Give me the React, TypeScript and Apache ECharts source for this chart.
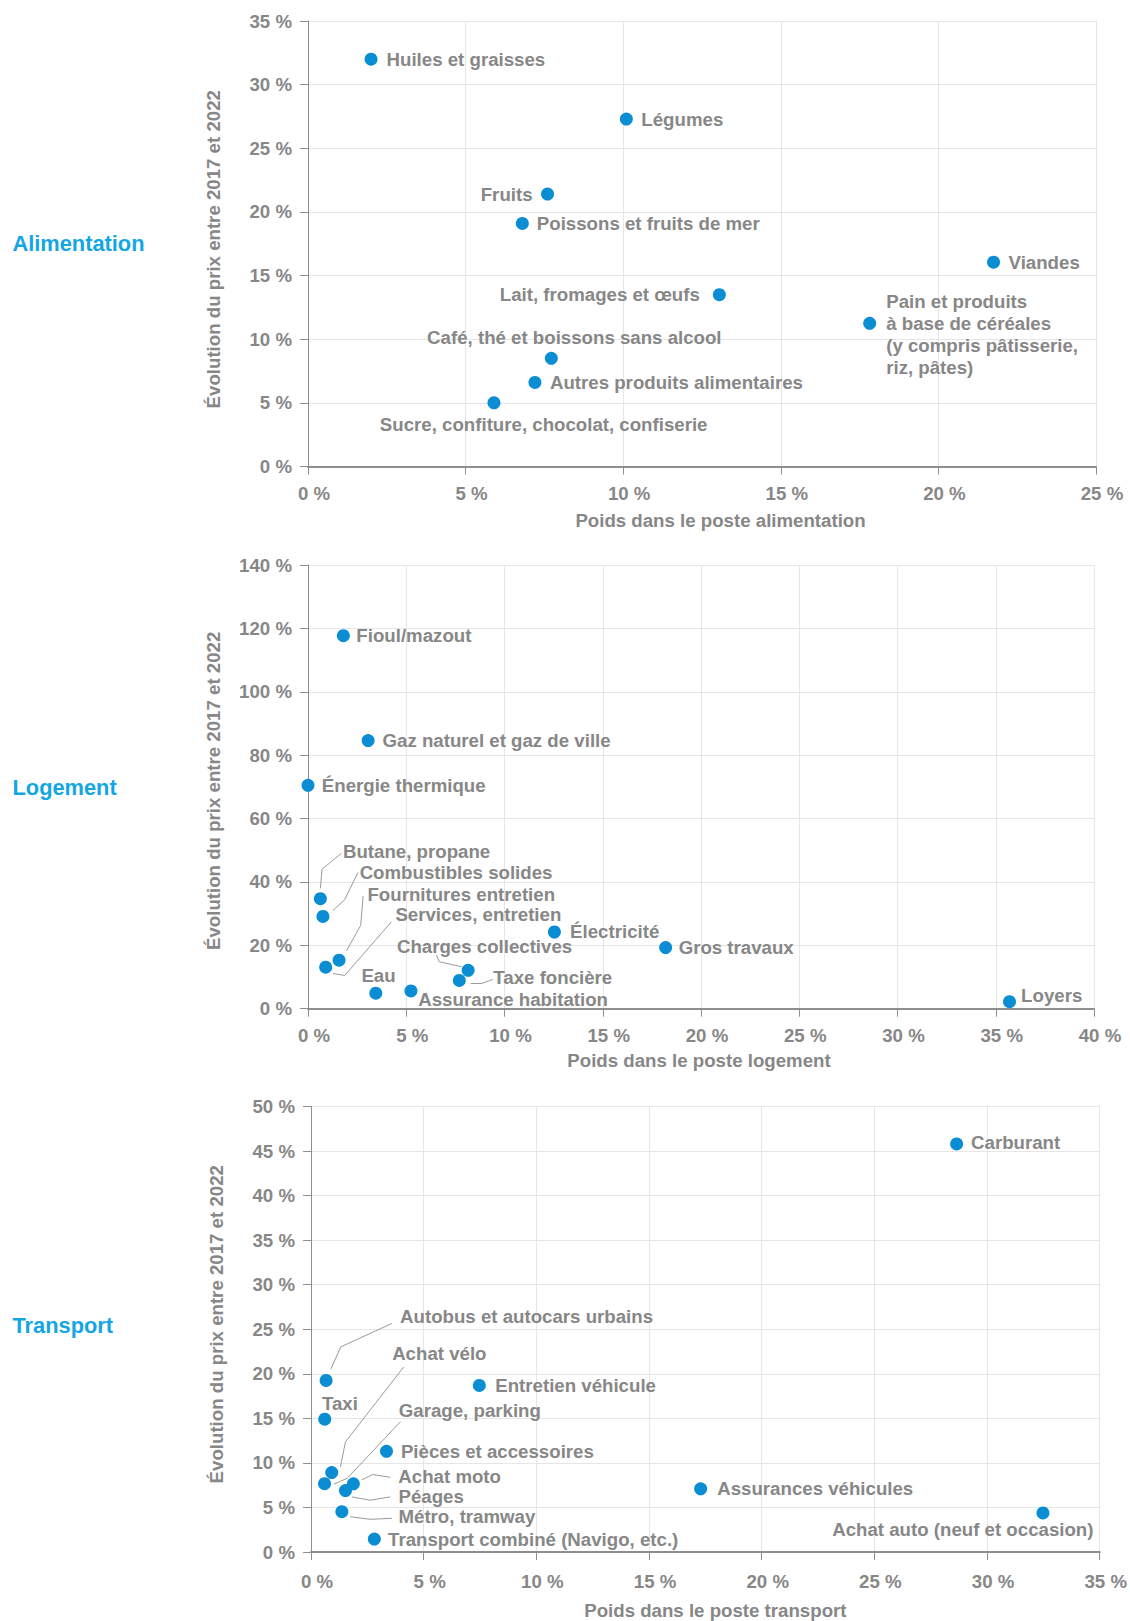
import React, { useEffect, useRef } from "react";
import * as echarts from "echarts";

// ---------- Data ----------
const alimNames = [
  "Huiles et graisses",
  "Légumes",
  "Fruits",
  "Poissons et fruits de mer",
  "Viandes",
  "Lait, fromages et œufs",
  "Pain et produits\nà base de céréales\n(y compris pâtisserie,\nriz, pâtes)",
  "Café, thé et boissons sans alcool",
  "Autres produits alimentaires",
  "Sucre, confiture, chocolat, confiserie",
];
const alimWeight = [2.0, 10.1, 7.6, 6.8, 21.75, 13.05, 17.82, 7.72, 7.2, 5.9];
const alimChange = [32.0, 27.3, 21.4, 19.1, 16.05, 13.5, 11.25, 8.5, 6.6, 5.0];

const logNames = [
  "Fioul/mazout",
  "Gaz naturel et gaz de ville",
  "Énergie thermique",
  "Butane, propane",
  "Combustibles solides",
  "Fournitures entretien",
  "Services, entretien",
  "Eau",
  "Assurance habitation",
  "Charges collectives",
  "Taxe foncière",
  "Électricité",
  "Gros travaux",
  "Loyers",
];
const logWeight = [1.8, 3.06, 0, 0.63, 0.76, 1.58, 0.9, 3.45, 5.24, 8.15, 7.7, 12.54, 18.2, 35.7];
const logChange = [117.7, 84.6, 70.5, 34.7, 29.1, 15.3, 13.1, 4.9, 5.6, 12.1, 8.9, 24.2, 19.3, 2.2];

const transNames = [
  "Carburant",
  "Achat auto (neuf et occasion)",
  "Assurances véhicules",
  "Entretien véhicule",
  "Pièces et accessoires",
  "Autobus et autocars urbains",
  "Taxi",
  "Achat vélo",
  "Garage, parking",
  "Achat moto",
  "Péages",
  "Métro, tramway",
  "Transport combiné (Navigo, etc.)",
];
const transWeight = [28.65, 32.48, 17.29, 7.47, 3.35, 0.67, 0.61, 0.92, 0.6, 1.88, 1.53, 1.37, 2.81];
const transChange = [45.8, 4.38, 7.09, 18.7, 11.3, 19.25, 14.9, 8.92, 7.67, 7.65, 6.9, 4.52, 1.45];

const sectionTitles = ["Alimentation", "Logement", "Transport"];
const xAxisNames = [
  "Poids dans le poste alimentation",
  "Poids dans le poste logement",
  "Poids dans le poste transport",
];
const yAxisName = "Évolution du prix entre 2017 et 2022";
const xMax = [25, 40, 35];
const yMax = [35, 140, 50];
const yStep = [5, 20, 5];

// ---------- Layout (label offsets from the dot centre, in px) ----------
type Off = [number, number, string];
const alimLabelOff: Off[] = [
  [15.5, 0, "left"],
  [15, 0, "left"],
  [-15, 0, "right"],
  [14.5, 0, "left"],
  [15, 0, "left"],
  [-19.5, 0, "right"],
  [16.5, 11.5, "left"],
  [23, -20.7, "center"],
  [15, 0, "left"],
  [49.7, 22, "center"],
];
const logLabelOff: Off[] = [
  [13, 0, "left"],
  [14.4, 0, "left"],
  [13.8, 0, "left"],
  [22.6, -47, "left"],
  [36.7, -44, "left"],
  [28.4, -66, "left"],
  [69.7, -52.7, "left"],
  [2.7, -17.7, "center"],
  [7.3, 9, "left"],
  [16.4, -23.6, "center"],
  [34, -2.6, "left"],
  [15.7, -1, "left"],
  [13, 0, "left"],
  [11.6, -6, "left"],
];
const transLabelOff: Off[] = [
  [14.4, -1.7, "left"],
  [50.5, 16.2, "right"],
  [16.6, 0, "left"],
  [15.9, 0, "left"],
  [14.4, 0, "left"],
  [74, -64.3, "left"],
  [15.1, -15.8, "center"],
  [60.4, -119, "left"],
  [74.3, -72.7, "left"],
  [45, -7.6, "left"],
  [53, 5.7, "left"],
  [56.6, 5, "left"],
  [13.7, 0, "left"],
];

// leader line polylines (offsets from dot centre, px), keyed by point index
const logLeaders: Record<number, number[][]> = {
  3: [[0, -10.4], [1.6, -29.4], [21, -45.4]],
  4: [[10, -6], [21.7, -16.7], [35, -44]],
  5: [[7.4, -9.3], [21.7, -35], [24, -64]],
  6: [[7.3, 6.3], [19, 8.3], [65.7, -45.3]],
  9: [[-31.6, -15.3], [-29, -8.6], [-6.6, -3.6]],
  10: [[11.4, 3], [22.4, 3], [33.4, -1]],
};
const transLeaders: Record<number, number[][]> = {
  5: [[4.7, -11.3], [14.7, -33.6], [65.7, -57]],
  7: [[8.7, -5.6], [13.7, -30.6], [72, -105.6]],
  8: [[9.3, 0.6], [22.7, -5.4], [76, -62]],
  9: [[8.4, -4], [19.4, -9.3], [36.7, -6.6]],
  10: [[6.4, 6.4], [24.7, 9.7], [44.7, 6.4]],
  11: [[8.3, 5], [28.3, 7.6], [50, 6.6]],
};

const grids = [
  { left: 308, top: 21, width: 788, height: 445.5 },
  { left: 308, top: 565, width: 786, height: 443.7 },
  { left: 311, top: 1106.5, width: 791, height: 445.5 },
];
const titleY = [243, 787, 1325];
const xNamePad = [[0, 0, 0, 37], [0, 4, 0, 0], [0, 0, 0, 20]];
const yNamePad = [[0, 11, 0, 0], [0, 8, 0, 0], [0, 0, 0, 10]];
const xNameGap = [44, 42.5, 49];
const xLabelMargin = [17, 17, 20];

const GRAY = "#878787";
const BLUE = "#0a8dd3";
const TITLE = "#12a6e6";
const FONT = '"Liberation Sans", Arial, Helvetica, sans-serif';
const FS = 18.67;

function buildOption() {
  const sets = [
    { names: alimNames, w: alimWeight, c: alimChange, off: alimLabelOff, lead: {} as Record<number, number[][]> },
    { names: logNames, w: logWeight, c: logChange, off: logLabelOff, lead: logLeaders },
    { names: transNames, w: transWeight, c: transChange, off: transLabelOff, lead: transLeaders },
  ];

  const xAxis = sets.map((_, i) => ({
    type: "value",
    gridIndex: i,
    min: 0,
    max: xMax[i],
    interval: 5,
    name: xAxisNames[i],
    nameLocation: "middle",
    nameGap: xNameGap[i],
    nameTextStyle: { color: GRAY, fontSize: FS, fontWeight: "bold", fontFamily: FONT, padding: xNamePad[i] },
    axisLine: { show: true, onZero: false, lineStyle: { color: "#8e8e8e", width: 2 } },
    axisTick: { show: true, length: 8, lineStyle: { color: "#8e8e8e", width: 1 } },
    axisLabel: {
      formatter: "{value} %",
      color: GRAY,
      fontSize: FS,
      fontWeight: "bold",
      fontFamily: FONT,
      margin: xLabelMargin[i],
      padding: [0, 0, 0, 12],
    },
    splitLine: { show: true, lineStyle: { color: "#e6e6e6", width: 1 } },
  }));

  const yAxis = sets.map((_, i) => ({
    type: "value",
    gridIndex: i,
    min: 0,
    max: yMax[i],
    interval: yStep[i],
    name: yAxisName,
    nameLocation: "middle",
    nameGap: 85,
    nameRotate: 90,
    nameTextStyle: { color: GRAY, fontSize: FS, fontWeight: "bold", fontFamily: FONT, padding: yNamePad[i] },
    axisLine: { show: true, onZero: false, lineStyle: { color: "#8e8e8e", width: 1 } },
    axisTick: { show: true, length: 8, lineStyle: { color: "#8e8e8e", width: 1 } },
    axisLabel: {
      formatter: "{value} %",
      color: GRAY,
      fontSize: FS,
      fontWeight: "bold",
      fontFamily: FONT,
      margin: 16,
    },
    splitLine: { show: true, lineStyle: { color: "#e6e6e6", width: 1 } },
  }));

  const series: any[] = [];
  sets.forEach((s, i) => {
    const leadIdx = Object.keys(s.lead).map(Number);
    if (leadIdx.length) {
      series.push({
        type: "custom",
        xAxisIndex: i,
        yAxisIndex: i,
        silent: true,
        z: 1,
        data: leadIdx.map((k) => [s.w[k], s.c[k], k]),
        renderItem: (params: any, api: any) => {
          const k = api.value(2);
          const p = api.coord([api.value(0), api.value(1)]);
          const pts = s.lead[k].map((o) => [p[0] + o[0], p[1] + o[1]]);
          return {
            type: "polyline",
            shape: { points: pts },
            style: { stroke: "#9a9a9a", lineWidth: 1, fill: null },
          };
        },
      });
    }
    series.push({
      type: "scatter",
      xAxisIndex: i,
      yAxisIndex: i,
      z: 3,
      symbol: "circle",
      symbolSize: 13,
      itemStyle: { color: BLUE, opacity: 1 },
      data: s.w.map((w, k) => [w, s.c[k]]),
      label: {
        show: true,
        formatter: (p: any) => s.names[p.dataIndex],
        color: GRAY,
        fontSize: FS,
        fontWeight: "bold",
        fontFamily: FONT,
        lineHeight: 22,
      },
      labelLayout: (p: any) => {
        const o = s.off[p.dataIndex];
        const cx = p.rect.x + p.rect.width / 2;
        const cy = p.rect.y + p.rect.height / 2;
        return { x: cx + o[0], y: cy + o[1], align: o[2], verticalAlign: "middle" };
      },
      emphasis: { disabled: true },
    });
  });

  const graphic = sectionTitles.map((t, i) => ({
    type: "text",
    x: 12.5,
    y: titleY[i],
    silent: true,
    style: {
      text: t,
      fill: TITLE,
      fontSize: 21.8,
      fontWeight: "bold",
      fontFamily: FONT,
      verticalAlign: "middle",
      align: "left",
    },
  }));

  return {
    animation: false,
    backgroundColor: "#ffffff",
    textStyle: { fontFamily: FONT },
    grid: grids,
    xAxis,
    yAxis,
    series,
    graphic,
  };
}

export default function App() {
  const ref = useRef<HTMLDivElement | null>(null);
  useEffect(() => {
    document.body.style.margin = "0";
    if (!ref.current) return;
    const chart = echarts.init(ref.current, undefined, { renderer: "svg" });
    chart.setOption(buildOption() as any);
    return () => chart.dispose();
  }, []);
  return <div ref={ref} style={{ width: 1130, height: 1621, background: "#fff" }} />;
}
